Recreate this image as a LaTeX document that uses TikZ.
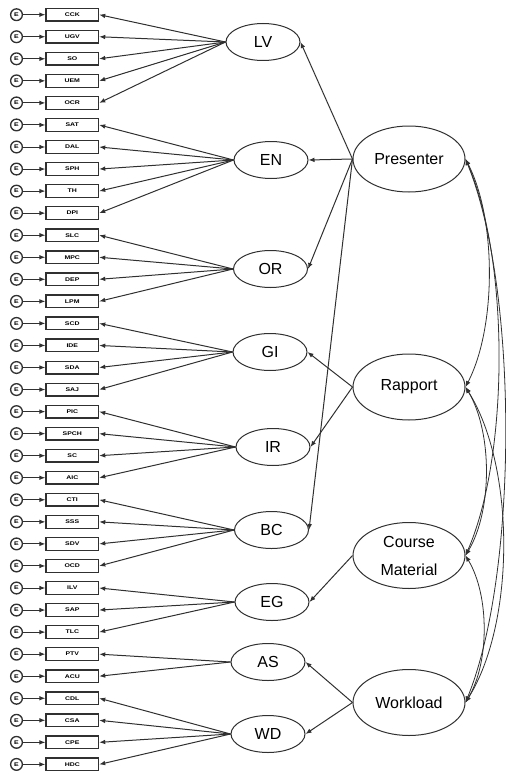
\documentclass[tikz,border=0pt]{standalone}
\usepackage{fontspec}
\setmainfont{Liberation Sans}
\usetikzlibrary{arrows.meta,shapes.geometric}
\definecolor{ink}{HTML}{303030}
\newcommand{\tinylab}[1]{\scalebox{1.3}[1]{\bfseries\fontsize{4}{4}\selectfont #1}}
\begin{document}
\begin{tikzpicture}[x=0.75pt,y=-0.75pt,
  errc/.style={circle, draw=ink, line width=1pt, minimum size=8.8pt, inner sep=0pt},
  mbox/.style={rectangle, draw=ink, line width=1pt, minimum width=39.4pt, minimum height=9.5pt, inner sep=0pt},
  latent/.style={ellipse, draw=ink, line width=0.75pt, fill=white, minimum width=55.5pt, minimum height=27.75pt, inner sep=0pt, font=\fontsize{12}{14}\selectfont},
  factor/.style={ellipse, draw=ink, line width=0.75pt, fill=white, minimum width=84pt, minimum height=49.5pt, inner sep=0pt, font=\fontsize{12}{21}\selectfont, align=center},
  arrowline/.style={draw=ink, line width=0.75pt, -{Latex[length=4.5pt,width=3.5pt]}},
  cov/.style={draw=ink, line width=0.6pt, {Latex[length=4.5pt,width=3.5pt]}-{Latex[length=4.5pt,width=3.5pt]}},
]
\useasboundingbox (0,0) rectangle (506,774);

% error terms and observed indicators
\foreach \lab [count=\i from 0] in {CCK,UGV,SO,UEM,OCR,SAT,DAL,SPH,TH,DPI,SLC,MPC,DEP,LPM,SCD,IDE,SDA,SAJ,PIC,SPCH,SC,AIC,CTI,SSS,SDV,OCD,ILV,SAP,TLC,PTV,ACU,CDL,CSA,CPE,HDC} {
  \pgfmathsetmacro\yy{14.7+22.05*\i}
  \node[errc] (e\i) at (16.5,\yy) {\tinylab{E}};
  \node[mbox] (m\i) at (72.3,\yy) {\tinylab{\lab}};
  \draw[arrowline] (e\i) -- (m\i);
}

% first-order latent variables
\node[latent] (LV) at (263,42) {LV};
\node[latent] (EN) at (271,160) {EN};
\node[latent] (OR) at (270.5,269) {OR};
\node[latent] (GI) at (270,352) {GI};
\node[latent] (IR) at (273,447) {IR};
\node[latent] (BC) at (271.5,530) {BC};
\node[latent] (EG) at (272,602) {EG};
\node[latent] (AS) at (268,662) {AS};
\node[latent] (WD) at (268,734) {WD};

% loadings on the indicators
\foreach \l/\a/\b in {LV/0/4,EN/5/9,OR/10/13,GI/14/17,IR/18/21,BC/22/25,EG/26/28,AS/29/30,WD/31/34} {
  \foreach \k in {\a,...,\b} {
    \draw[arrowline] (\l.west) -- (m\k.east);
  }
}

% second-order factors
\node[factor] (Pres) at (409,159) {Presenter};
\node[factor] (Rapp) at (409,387) {Rapport};
\node[factor] (Cour) at (409,555.5) {Course\\Material};
\node[factor] (Work) at (409,702.5) {Workload};

\foreach \t in {LV,EN,OR,BC} { \draw[arrowline] (Pres.west) -- (\t.east); }
\foreach \t in {GI,IR} { \draw[arrowline] (Rapp.west) -- (\t.east); }
\draw[arrowline] (Cour.west) -- (EG.east);
\foreach \t in {AS,WD} { \draw[arrowline] (Work.west) -- (\t.east); }

% factor covariances
\draw[cov] (Pres.east) .. controls +(31,60) and +(31,-60) .. (Rapp.east);
\draw[cov] (Pres.east) .. controls +(44,100) and +(44,-100) .. (Cour.east);
\draw[cov] (Pres.east) .. controls +(53,130) and +(53,-130) .. (Work.east);
\draw[cov] (Rapp.east) .. controls +(27,45) and +(27,-45) .. (Cour.east);
\draw[cov] (Rapp.east) .. controls +(50,80) and +(50,-80) .. (Work.east);
\draw[cov] (Cour.east) .. controls +(24,40) and +(24,-40) .. (Work.east);
\end{tikzpicture}
\end{document}
